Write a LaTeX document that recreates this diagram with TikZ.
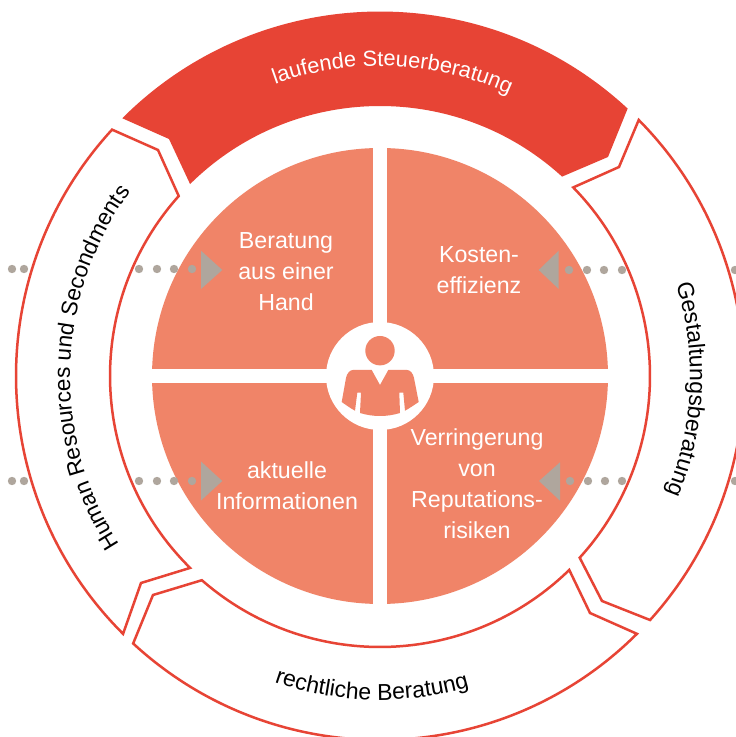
\documentclass[tikz,border=0pt]{standalone}
\usepackage{fontspec}
\setmainfont{Liberation Sans}
\usetikzlibrary{decorations.text}
\definecolor{ringred}{HTML}{E74435}
\definecolor{salmon}{HTML}{F08468}
\definecolor{dotgray}{HTML}{AFA69D}
\tikzset{
  segline/.style={draw=ringred,line width=2.5pt,fill=white,line join=miter},
  labeltext/.style={text=white,font=\fontsize{23.2}{31}\selectfont,align=center},
}
\newcommand{\ringfont}{\fontsize{23}{26}\selectfont}
\newcommand{\topfont}{\fontsize{21.8}{26}\selectfont}
\newcommand{\leftfont}{\fontsize{22.6}{26}\selectfont}
\begin{document}
\begin{tikzpicture}[x=1pt,y=1pt]
\useasboundingbox (0,0) rectangle (736,737);
\clip (0,0) rectangle (736,737);
\fill[white] (0,0) rectangle (736,737);
\begin{scope}[shift={(380,361)}]
% ring segments
\fill[ringred] (135:364.5) arc[start angle=135,end angle=47.2,radius=364.5] -- (228,219) -- (47.6:270) arc[start angle=47.6,end angle=134.7,radius=270] -- (-211,237) -- cycle;
\path[segline] (44.7:364) arc[start angle=44.7,end angle=-42.1,radius=364] -- (222,-225) -- (-42.3:270) arc[start angle=-42.3,end angle=44.3,radius=270] -- (239,209) -- cycle;
\path[segline] (-45.1:364) arc[start angle=-45.1,end angle=-132.7,radius=364] -- (-227,-219) -- (-131.1:271) arc[start angle=-131.1,end angle=-45.7,radius=271] -- (210,-237) -- cycle;
\path[segline] (-134.9:364) arc[start angle=-134.9,end angle=-222.6,radius=364] -- (-222,226) -- (-221.8:270) arc[start angle=-221.8,end angle=-134.7,radius=270] -- (-239,-207) -- cycle;
% curved labels
\path[postaction={decorate,decoration={text along path,text align=center,text={|\topfont\color{white}|laufende Steuerberatung}}}] (122.6:310) arc[start angle=122.6,end angle=52.6,radius=310];
\path[postaction={decorate,decoration={text along path,text align=center,text={|\ringfont|Gestaltungsberatung}}}] (32.5:310) arc[start angle=32.5,end angle=-37.5,radius=310];
\path[postaction={decorate,decoration={text along path,text align=center,text={|\ringfont|rechtliche Beratung}}}] (-126.5:324) arc[start angle=-126.5,end angle=-56.5,radius=324];
\path[postaction={decorate,decoration={text along path,text align=center,text={|\leftfont|Human Resources und Secondments}}}] (-141.7:310) arc[start angle=-141.7,end angle=-221.7,radius=310];
% inner disc
\fill[salmon] (0,0) circle (228);
\fill[white] (-7,-232) rectangle (7,232);
\fill[white] (-232,-7) rectangle (232,7);
\fill[white] (0,0) circle (54);
% person
\fill[salmon] (0,25.3) circle (14.7);
\fill[salmon] (-38.3,-26) -- (-34,-2) .. controls (-33,3) and (-30,6) .. (-27,6) -- (-8.3,6) -- (0,-9) -- (8.3,6) -- (27,6) .. controls (30,6) and (33,3) .. (34,-2) -- (38.7,-26) .. controls (34,-29) and (30,-32) .. (25,-34.7) -- (23.3,-16.7) -- (19.3,-16.7) -- (20,-37) .. controls (7,-41) and (-7,-41) .. (-20,-37) -- (-19,-16.7) -- (-22.7,-16.7) -- (-25,-34.7) .. controls (-30,-32) and (-34,-29) .. (-38.3,-26) -- cycle;
% dots and arrow triangles
\foreach \px/\py in {12/269,24/269,139/269,157/269,174/269,192/269,12/481,24/481,139/481,157/481,174/481,192/481,569/270,587/270,604/270,622/270,735/270,570/481,588/481,605/481,622/481,735/481}
  \fill[dotgray] ({\px-380},{376-\py}) circle (4.2);
\fill[dotgray] (-179,125.3) -- (-179,87) -- (-157.7,106) -- cycle;
\fill[dotgray] (-179,-85.5) -- (-179,-124.5) -- (-157.7,-105) -- cycle;
\fill[dotgray] (178.7,125.3) -- (178.7,87) -- (158.7,106) -- cycle;
\fill[dotgray] (180,-86.3) -- (180,-124.7) -- (159,-105) -- cycle;
% quadrant labels
\node[labeltext] (hand) at (-94,104.2) {Beratung\\aus einer\\Hand};
\node[labeltext] (kosten) at (99,105.5) {Kosten-\\effizienz};
\node[labeltext] (info) at (-93,-109.5) {aktuelle\\Informationen};
\node[labeltext] (reput) at (97,-108) {Verringerung\\von\\Reputations-\\risiken};
\end{scope}
\end{tikzpicture}
\end{document}
